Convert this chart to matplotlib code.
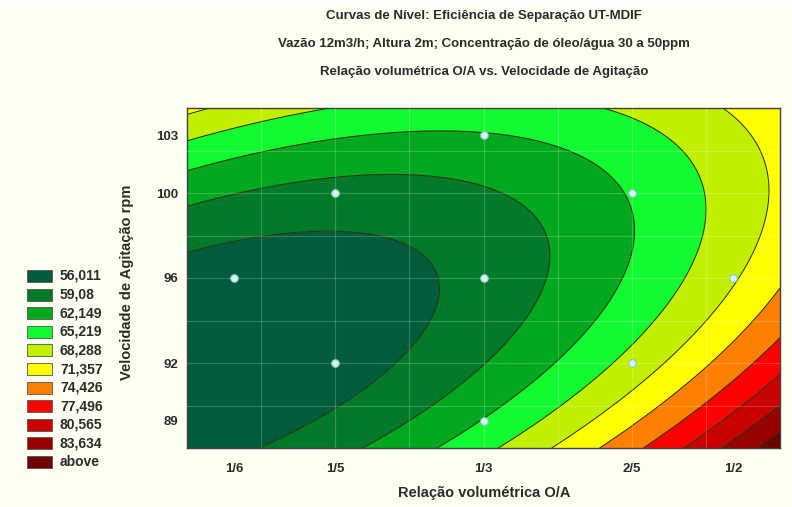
import numpy as np
import matplotlib
matplotlib.use("Agg")
import matplotlib.pyplot as plt
from matplotlib.patches import Rectangle

# Fitted second-order response surface in coded units
# f = b0 + b1*x + b2*y + b11*x^2 + b22*y^2 + b12*x*y
b0, b1, b2 = 57.11, 4.03, -0.10
b11, b22, b12 = 1.43, 1.78, -1.85

# Design levels (coded) and their labels
x_coded = [-1.682, -1.0, 0.0, 1.0, 1.682]
x_labels = ["1/6", "1/5", "1/3", "2/5", "1/2"]
y_coded = [-1.682, -1.0, 0.0, 1.0, 1.682]
y_labels = ["89", "92", "96", "100", "103"]

# Experimental runs of the central composite design (coded)
runs_x = [-1.682, -1.0, -1.0, 0.0, 0.0, 0.0, 1.0, 1.0, 1.682]
runs_y = [0.0, 1.0, -1.0, 1.682, 0.0, -1.682, 1.0, -1.0, 0.0]

levels = [56.011, 59.08, 62.149, 65.219, 68.288, 71.357, 74.426, 77.496, 80.565, 83.634]
legend_labels = ["56,011", "59,08", "62,149", "65,219", "68,288", "71,357",
                 "74,426", "77,496", "80,565", "83,634", "above"]
band_colors = ["#005c3a", "#007a28", "#00a81e", "#12fa30", "#c0f000", "#ffff00",
               "#ff7f00", "#ff0000", "#c80000", "#980000", "#700000"]

title_lines = ["Curvas de Nível: Eficiência de Separação UT-MDIF",
               "Vazão 12m3/h; Altura 2m; Concentração de óleo/água 30 a 50ppm",
               "Relação volumétrica O/A vs. Velocidade de Agitação"]
xlabel = "Relação volumétrica O/A"
ylabel = "Velocidade de Agitação rpm"

FONT = ["Liberation Sans", "DejaVu Sans"]
TXT = "#2b2b2b"
BG = "#fffef2"
W, H = 792, 507

fig = plt.figure(figsize=(W / 100, H / 100), dpi=100, facecolor=BG)
fig.patches.append(Rectangle((0, 1 - 6 / H), 1, 6 / H, transform=fig.transFigure,
                             facecolor="white", edgecolor="none", zorder=-1))

ax = fig.add_axes([187 / W, (H - 448) / H, (780 - 187) / W, (448 - 108) / H])

gx, gy = np.meshgrid(np.linspace(-2, 2, 400), np.linspace(-2, 2, 400))
gz = b0 + b1 * gx + b2 * gy + b11 * gx ** 2 + b22 * gy ** 2 + b12 * gx * gy

bounds = [-1e9] + levels + [1e9]
ax.contourf(gx, gy, gz, levels=bounds, colors=band_colors, antialiased=True)
ax.contour(gx, gy, gz, levels=levels, colors="#2a2a10", linewidths=0.7)

# faint grid
for g in [-1.5, -1.0, -0.5, 0.0, 0.5, 1.0, 1.5]:
    ax.axvline(g, color="white", alpha=0.2, lw=0.9, zorder=3)
    ax.axhline(g, color="white", alpha=0.2, lw=0.9, zorder=3)

ax.plot(runs_x, runs_y, "o", ms=5.5, mfc="#d6f6f4", mec="#8fc4c4", mew=0.8, zorder=5)

ax.set_xlim(-2, 2)
ax.set_ylim(-2, 2)
ax.set_xticks(x_coded)
ax.set_xticklabels(x_labels)
ax.set_yticks(y_coded)
ax.set_yticklabels(y_labels)
ax.tick_params(axis="x", length=0, pad=11, labelsize=9.5, labelcolor=TXT)
ax.tick_params(axis="y", length=0, pad=6, labelsize=9.5, labelcolor=TXT)
for lab in ax.get_xticklabels() + ax.get_yticklabels():
    lab.set_family(FONT)
    lab.set_weight("bold")
for s in ax.spines.values():
    s.set_color("#404040")
    s.set_linewidth(1.0)

fig.text(484 / W, 1 - 493 / H, xlabel, ha="center", va="center", family=FONT,
         weight="bold", fontsize=10.5, color=TXT)
fig.text(127 / W, 1 - 282 / H, ylabel, ha="center", va="center", rotation=90,
         family=FONT, weight="bold", fontsize=10.5, color=TXT)

for i, line in enumerate(title_lines):
    fig.text(484 / W, 1 - (16 + 28 * i) / H, line, ha="center", va="center",
             family=FONT, weight="bold", fontsize=9.5, color=TXT)

# legend of contour bands
for i, (lab, col) in enumerate(zip(legend_labels, band_colors)):
    yc = 276 + 18.6 * i
    fig.patches.append(Rectangle((27 / W, 1 - (yc + 6) / H), 25 / W, 12 / H,
                                 transform=fig.transFigure, facecolor=col,
                                 edgecolor="#555555", lw=0.6))
    fig.text(60 / W, 1 - yc / H, lab, ha="left", va="center", family=FONT,
             weight="bold", fontsize=10, color=TXT)

fig.savefig("out.png", dpi=100, facecolor=BG)
